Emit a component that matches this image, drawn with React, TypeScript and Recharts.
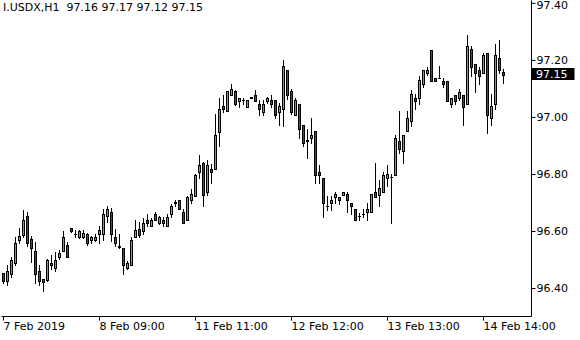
import { Bar, ComposedChart, ReferenceLine, XAxis, YAxis } from "recharts";

// H1 candles, oldest first
const OPEN = [
  96.453, 96.425, 96.45, 96.489, 96.569, 96.589, 96.653, 96.572, 96.533, 96.462,
  96.432, 96.431, 96.491, 96.471, 96.51, 96.532, 96.551, 96.611, 96.593, 96.582,
  96.58, 96.592, 96.571, 96.571, 96.592, 96.592, 96.653, 96.67, 96.58, 96.549,
  96.541, 96.473, 96.483, 96.582, 96.609, 96.601, 96.641, 96.621, 96.662, 96.631,
  96.641, 96.621, 96.662, 96.7, 96.711, 96.67, 96.641, 96.711, 96.723, 96.808,
  96.841, 96.74, 96.82, 96.82, 96.948, 97.039, 97.021, 97.08, 97.091, 97.057,
  97.06, 97.036, 97.07, 97.08, 97.048, 97.019, 97.057, 97.06, 97.06, 97.019,
  97.031, 97.168, 97.091, 97.009, 97.048, 96.972, 96.92, 96.927, 96.951, 96.81,
  96.788, 96.69, 96.699, 96.72, 96.722, 96.729, 96.73, 96.701, 96.68, 96.655,
  96.662, 96.668, 96.668, 96.74, 96.729, 96.738, 96.788, 96.79, 96.799, 96.919,
  96.881, 96.951, 96.987, 97.069, 97.069, 97.118, 97.157, 97.238, 97.139, 97.139,
  97.127, 97.127, 97.048, 97.08, 97.069, 97.08, 97.048, 97.239, 97.188, 97.168,
  97.157, 97.227, 96.999, 97.048, 97.209, 97.16,
];
const HIGH = [
  96.456, 96.481, 96.51, 96.58, 96.612, 96.674, 96.67, 96.586, 96.562, 96.481,
  96.435, 96.504, 96.516, 96.527, 96.536, 96.602, 96.562, 96.614, 96.604, 96.607,
  96.604, 96.596, 96.586, 96.592, 96.618, 96.68, 96.691, 96.682, 96.609, 96.592,
  96.541, 96.498, 96.58, 96.641, 96.633, 96.648, 96.662, 96.648, 96.668, 96.656,
  96.65, 96.663, 96.698, 96.712, 96.712, 96.68, 96.725, 96.75, 96.8, 96.87,
  96.842, 96.849, 96.838, 97.013, 97.068, 97.077, 97.091, 97.118, 97.095, 97.069,
  97.068, 97.06, 97.071, 97.095, 97.06, 97.06, 97.07, 97.08, 97.06, 97.05,
  97.2, 97.168, 97.101, 97.069, 97.048, 96.972, 96.96, 96.999, 96.951, 96.832,
  96.788, 96.723, 96.723, 96.738, 96.722, 96.74, 96.74, 96.701, 96.68, 96.666,
  96.68, 96.701, 96.73, 96.841, 96.782, 96.81, 96.832, 96.8, 96.937, 97.021,
  96.939, 97.021, 97.097, 97.081, 97.147, 97.167, 97.177, 97.238, 97.139, 97.179,
  97.139, 97.127, 97.069, 97.08, 97.098, 97.08, 97.288, 97.249, 97.188, 97.176,
  97.227, 97.227, 97.081, 97.259, 97.27, 97.17,
];
const LOW = [
  96.421, 96.414, 96.44, 96.481, 96.561, 96.58, 96.548, 96.492, 96.42, 96.413,
  96.393, 96.428, 96.467, 96.46, 96.502, 96.53, 96.509, 96.6, 96.58, 96.579,
  96.577, 96.551, 96.559, 96.568, 96.559, 96.571, 96.633, 96.568, 96.548, 96.541,
  96.452, 96.469, 96.483, 96.58, 96.58, 96.592, 96.621, 96.619, 96.639, 96.628,
  96.621, 96.621, 96.65, 96.691, 96.68, 96.629, 96.641, 96.699, 96.723, 96.788,
  96.689, 96.729, 96.771, 96.82, 96.899, 97.019, 97.021, 97.08, 97.045, 97.036,
  97.048, 97.036, 97.067, 97.057, 97.009, 97.009, 97.049, 97.036, 96.999, 96.975,
  96.969, 97.066, 97.011, 97.007, 96.927, 96.899, 96.859, 96.911, 96.769, 96.769,
  96.65, 96.677, 96.677, 96.699, 96.697, 96.729, 96.668, 96.662, 96.639, 96.639,
  96.65, 96.639, 96.668, 96.72, 96.689, 96.738, 96.759, 96.629, 96.799, 96.876,
  96.84, 96.951, 96.969, 97.028, 97.048, 97.106, 97.15, 97.127, 97.127, 97.139,
  97.106, 97.057, 97.036, 97.048, 97.06, 96.975, 97.048, 97.147, 97.089, 97.116,
  97.157, 96.946, 96.975, 97.031, 97.155, 97.12,
];
const CLOSE = [
  96.427, 96.462, 96.501, 96.56, 96.584, 96.642, 96.56, 96.543, 96.452, 96.425,
  96.422, 96.501, 96.481, 96.501, 96.524, 96.582, 96.51, 96.602, 96.591, 96.602,
  96.594, 96.56, 96.58, 96.581, 96.604, 96.662, 96.68, 96.592, 96.56, 96.547,
  96.483, 96.49, 96.571, 96.604, 96.589, 96.631, 96.631, 96.641, 96.641, 96.65,
  96.631, 96.65, 96.689, 96.702, 96.68, 96.631, 96.72, 96.73, 96.799, 96.832,
  96.729, 96.832, 96.808, 96.939, 97.031, 97.031, 97.091, 97.098, 97.048, 97.069,
  97.06, 97.06, 97.068, 97.057, 97.031, 97.048, 97.069, 97.048, 97.009, 97.039,
  97.179, 97.08, 97.019, 97.06, 96.96, 96.911, 96.918, 96.94, 96.799, 96.799,
  96.701, 96.688, 96.712, 96.73, 96.711, 96.739, 96.711, 96.689, 96.641, 96.653,
  96.663, 96.68, 96.73, 96.72, 96.752, 96.799, 96.8, 96.791, 96.929, 96.888,
  96.939, 96.999, 97.081, 97.057, 97.13, 97.167, 97.168, 97.127, 97.127, 97.138,
  97.116, 97.057, 97.069, 97.057, 97.089, 97.036, 97.249, 97.176, 97.157, 97.147,
  97.218, 97.009, 97.039, 97.218, 97.167, 97.15,
];

const X_TICK_LABELS = ["7 Feb 2019", "8 Feb 09:00", "11 Feb 11:00", "12 Feb 12:00", "13 Feb 13:00", "14 Feb 14:00"];
const BARS_PER_LABEL = 24;
const Y_TICKS = [96.4, 96.6, 96.8, 97.0, 97.2, 97.4];
const Y_DOMAIN = [96.302, 97.41];
const LAST_PRICE = 97.15;
const SYMBOL = "I.USDX,H1";
const EMPTY_BARS = 6; // chart shift on the right side

const FONT = "DejaVu Sans";
const UP = "#32cd32";
const DOWN = "#ff0000";

const data = Array.from({ length: OPEN.length + EMPTY_BARS }, (_, i) =>
  i < OPEN.length
    ? { i, range: [LOW[i], HIGH[i]], open: OPEN[i], high: HIGH[i], low: LOW[i], close: CLOSE[i] }
    : { i, range: null }
);

const xTicks = X_TICK_LABELS.map((_, j) => j * BARS_PER_LABEL);

function Candle(props: any) {
  const { x, y, width, height, payload } = props;
  if (!payload || payload.open == null) return null;
  const { open, high, low, close } = payload;
  const top = Math.min(y, y + height);
  const span = Math.abs(height);
  const toY = (v: number) => (high === low ? top : top + ((high - v) / (high - low)) * span);
  const snap = (v: number) => Math.round(v) + 0.5;
  const cx = Math.floor(x + width / 2) + 0.5;
  const oy = snap(toY(open));
  const cy = snap(toY(close));
  const bodyTop = Math.min(oy, cy);
  const bodyBot = Math.max(oy, cy);
  const wickTop = Math.round(toY(high));
  const wickBot = Math.round(toY(low)) + 1;

  return (
    <g>
      <line x1={cx} x2={cx} y1={wickTop} y2={wickBot} stroke="#000" />
      {bodyBot - bodyTop >= 1 ? (
        <rect
          x={cx - 1}
          y={bodyTop}
          width={2}
          height={bodyBot - bodyTop}
          fill={close >= open ? UP : DOWN}
          stroke="#000"
        />
      ) : (
        <line x1={cx - 1.5} x2={cx + 1.5} y1={bodyTop} y2={bodyTop} stroke="#000" />
      )}
    </g>
  );
}

// right-axis label; the top one is kept just inside the picture
function PriceTick(props: any) {
  const { x, y, payload } = props;
  return (
    <text x={x} y={Math.max(y, 5)} dy="0.355em" fill="#000" fontSize={11} fontFamily={FONT}>
      {Number(payload.value).toFixed(2)}
    </text>
  );
}

function PriceTag(props: any) {
  const { viewBox } = props;
  if (!viewBox) return null;
  const right = viewBox.x + viewBox.width;
  const py = Math.round(viewBox.y);
  return (
    <g>
      <rect x={right} y={py - 7} width={43} height={12} fill="#000" />
      <text x={right + 4.5} y={py - 1} dy="0.355em" fill="#fff" fontSize={11} fontFamily={FONT}>
        {LAST_PRICE.toFixed(2)}
      </text>
    </g>
  );
}

export default function App() {
  return (
    <div style={{ position: "absolute", left: 0, top: 0, width: 580, height: 340, background: "#fff" }}>
      <ComposedChart
        width={580}
        height={340}
        data={data}
        margin={{ top: 0.5, right: 0, bottom: 0, left: 1.5 }}
        style={{ fontFamily: FONT }}
      >
        <XAxis
          dataKey="i"
          type="category"
          ticks={xTicks}
          interval={0}
          height={23.5}
          tickSize={4}
          tickMargin={2}
          padding={{ left: 0, right: 2 }}
          axisLine={{ stroke: "#000" }}
          tickLine={{ stroke: "#000" }}
          tick={{ fill: "#000", fontSize: 11, fontFamily: FONT, textAnchor: "start" }}
          tickFormatter={(v: number) => X_TICK_LABELS[v / BARS_PER_LABEL]}
        />
        <XAxis
          xAxisId="top"
          orientation="top"
          dataKey="i"
          height={0}
          tick={false}
          tickLine={false}
          axisLine={{ stroke: "#000" }}
        />
        <YAxis
          type="number"
          orientation="right"
          domain={Y_DOMAIN}
          allowDataOverflow
          ticks={Y_TICKS}
          interval={0}
          width={48.5}
          tickSize={4}
          tickMargin={1}
          axisLine={{ stroke: "#000" }}
          tickLine={{ stroke: "#000" }}
          tick={(p: any) => <PriceTick {...p} />}
        />
        <YAxis
          yAxisId="frame"
          orientation="left"
          width={0}
          tick={false}
          tickLine={false}
          axisLine={{ stroke: "#000" }}
        />
        <Bar dataKey="range" barSize={4} shape={(p: any) => <Candle {...p} />} isAnimationActive={false} />
        <ReferenceLine y={LAST_PRICE} stroke="none" label={(p: any) => <PriceTag {...p} />} />
      </ComposedChart>
      <div
        style={{
          position: "absolute",
          left: 3,
          top: 1,
          fontFamily: FONT,
          fontSize: 11,
          color: "#000",
          whiteSpace: "pre",
        }}
      >
        {`${SYMBOL}  ${OPEN[OPEN.length - 1].toFixed(2)} ${HIGH[HIGH.length - 1].toFixed(2)} ${LOW[LOW.length - 1].toFixed(2)} ${CLOSE[CLOSE.length - 1].toFixed(2)}`}
      </div>
    </div>
  );
}
